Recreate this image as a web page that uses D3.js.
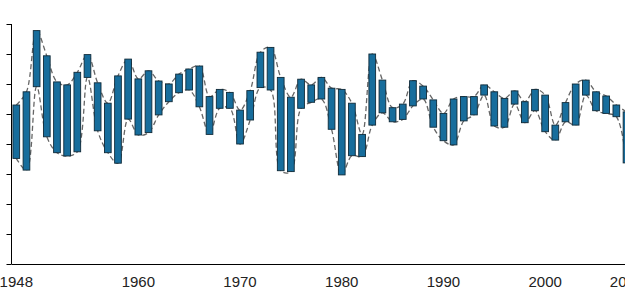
<!DOCTYPE html>
<html>
<head>
<meta charset="utf-8">
<script src="https://cdn.jsdelivr.net/npm/d3@7"></script>
<style>
  body { margin: 0; background: #fff; }
  #chart { width: 625px; height: 290px; overflow: hidden; }
  .xlab { font-family: "Liberation Sans", Arial, sans-serif; font-size: 15px; fill: #222; }
</style>
</head>
<body>
<div id="chart"></div>
<script>
// years shown on the category axis
var years = d3.range(1948, 2009);
var xLabels = [1948, 1960, 1970, 1980, 1990, 2000, 2008];
var yTicks = [0, 100, 200, 300, 400, 500, 600, 700, 800];

// upper and lower series, one value per year
var highVals = [530, 574, 778, 694, 607, 597, 639, 698, 604, 536,
	627, 683, 617, 644, 610, 600, 633, 650, 660, 558,
	582, 572, 513, 578, 706, 722, 622, 556, 616, 597,
	622, 586, 582, 536, 432, 700, 613, 521, 533, 611,
	593, 547, 502, 550, 558, 558, 597, 574, 552, 577,
	541, 582, 563, 463, 538, 600, 613, 574, 560, 530,
	507];
var lowVals = [352, 313, 591, 424, 371, 360, 374, 622, 444, 371,
	336, 483, 430, 438, 497, 541, 571, 580, 524, 432,
	519, 519, 400, 480, 588, 580, 311, 308, 519, 539,
	550, 449, 297, 361, 358, 463, 504, 474, 482, 527,
	550, 456, 411, 397, 477, 497, 563, 460, 456, 533,
	471, 511, 441, 413, 474, 463, 563, 511, 502, 491,
	337];

function drawChart() {
	var width = 625,
		height = 290;

	var svg = d3.select("#chart")
		.append("svg")
		.attr("width", width)
		.attr("height", height);

	var x = d3.scaleBand()
		.domain(years)
		.range([11.2, 631.6])
		.paddingInner(0.34)
		.paddingOuter(0.17);

	var y = d3.scaleLinear()
		.domain([0, 800])
		.range([264, 24]);

	var data = years.map(function (yr, i) {
		return { year: yr, hi: highVals[i], lo: lowVals[i] };
	});

	var cx = function (d) { return x(d.year) + x.bandwidth() / 2; };

	// dashed smoothed series lines
	["hi", "lo"].forEach(function (key) {
		svg.append("path")
			.datum(data)
			.attr("fill", "none")
			.attr("stroke", "#666")
			.attr("stroke-width", 1.3)
			.attr("stroke-dasharray", "5,3")
			.attr("d", d3.line()
				.curve(d3.curveCatmullRom.alpha(0.5))
				.x(cx)
				.y(function (d) { return y(d[key]); }));
	});

	// up/down bars
	svg.append("g")
		.selectAll("rect")
		.data(data)
		.enter().append("rect")
		.attr("x", function (d) { return x(d.year); })
		.attr("width", x.bandwidth())
		.attr("y", function (d) { return y(Math.max(d.hi, d.lo)); })
		.attr("height", function (d) { return Math.abs(y(d.lo) - y(d.hi)); })
		.attr("fill", "#176d9c")
		.attr("stroke", "#102a38")
		.attr("stroke-width", 0.9);

	// y axis, labels fall outside the crop
	svg.append("g")
		.attr("transform", "translate(11.5,0)")
		.call(d3.axisLeft(y).tickValues(yTicks).tickSize(5).tickFormat(""))
		.call(function (g) {
			g.select(".domain").attr("stroke", "#000").attr("d", "M0,24V264");
			g.selectAll(".tick line").attr("stroke", "#000");
		});

	// x axis line
	svg.append("line")
		.attr("x1", 11.5)
		.attr("x2", width)
		.attr("y1", 264.5)
		.attr("y2", 264.5)
		.attr("stroke", "#000")
		.attr("stroke-width", 1.2);

	svg.selectAll(".xlab")
		.data(xLabels)
		.enter().append("text")
		.attr("class", "xlab")
		.attr("x", function (d) { return x(d) + x.bandwidth() / 2; })
		.attr("y", 287)
		.attr("text-anchor", "middle")
		.text(function (d) { return d; });
}

drawChart();
</script>
</body>
</html>
